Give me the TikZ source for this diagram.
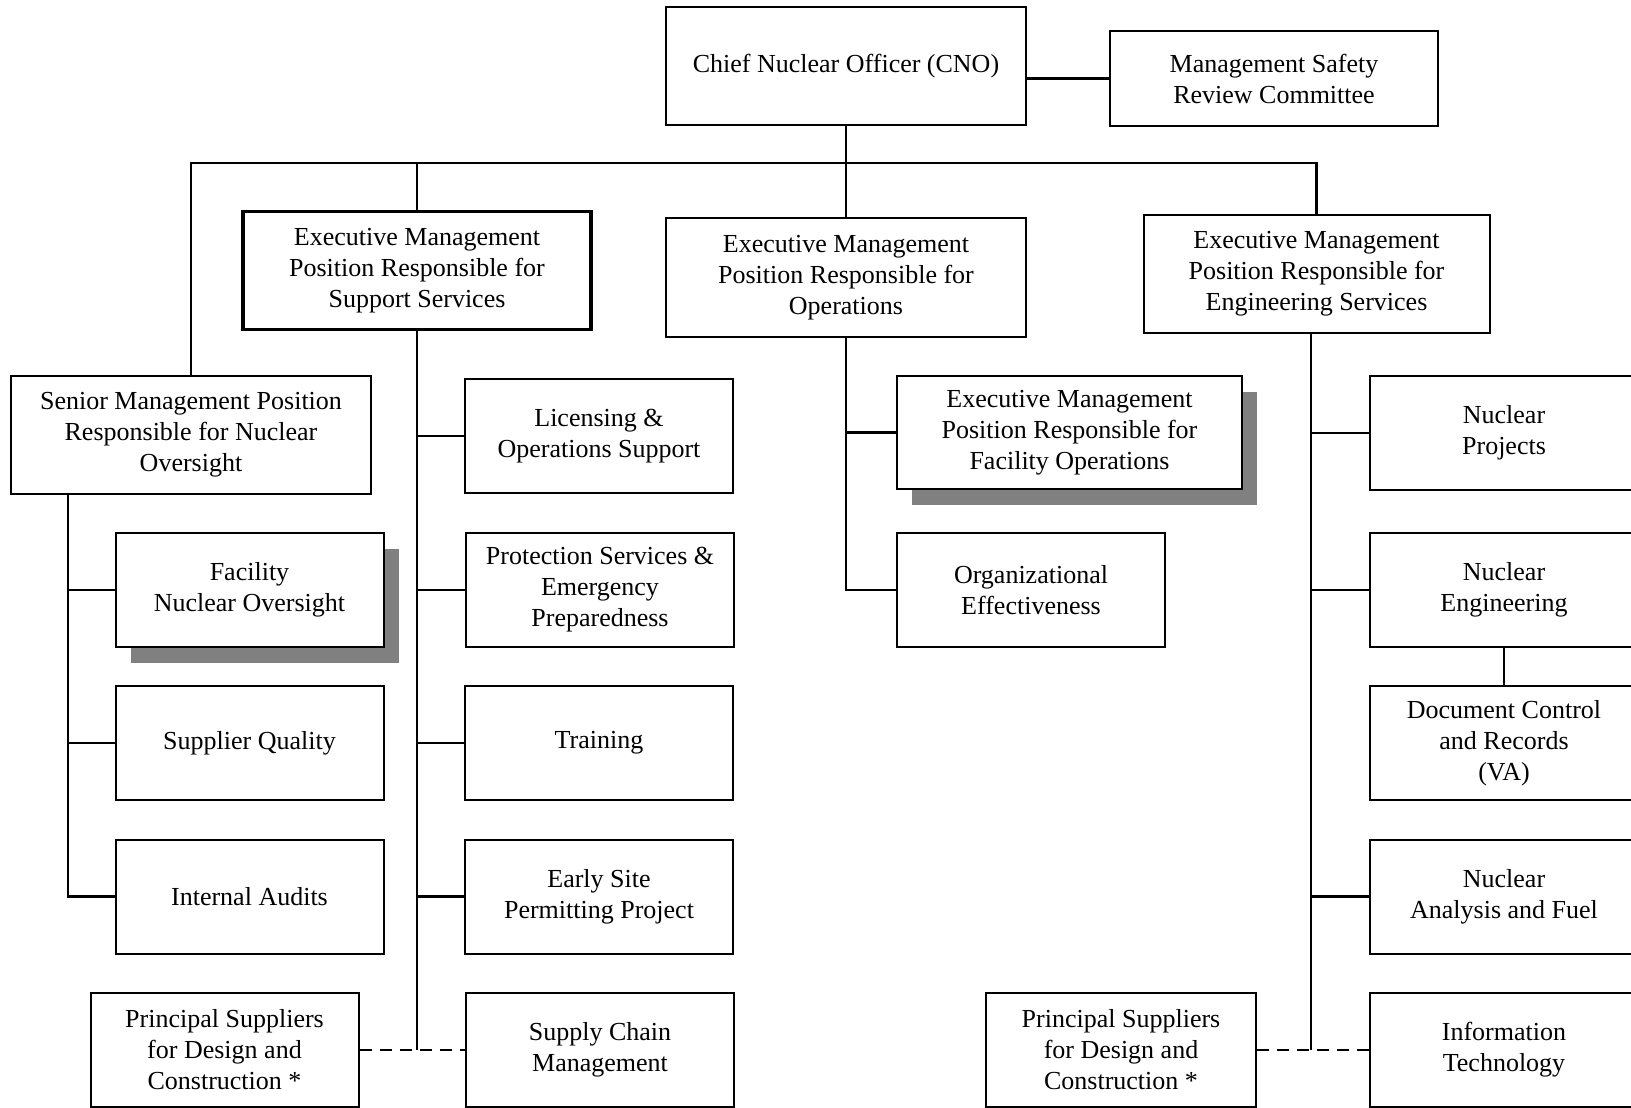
\documentclass[tikz,border=0pt]{standalone}
\usepackage{fontspec}
\setmainfont{Liberation Serif}
\usetikzlibrary{shadows}

\begin{document}
\begin{tikzpicture}[x=0.5pt, y=-0.5pt,
        box/.style={draw, line width=1pt, fill=white, align=center, inner sep=0pt,
            font=\fontsize{13}{15.5}\selectfont},
        unitbox/.style={box, minimum width=134pt, minimum height=57pt},
        headbox/.style={box, minimum width=173pt, minimum height=59pt},
        shadowed/.style={drop shadow={shadow xshift=7.5pt, shadow yshift=-8pt, fill=black!50, opacity=1}},
        link/.style={line width=1.1pt},
        buslink/.style={line width=1.4pt},
        dashlink/.style={line width=1.4pt, dash pattern=on 6pt off 4pt}]
    \useasboundingbox (0,0) rectangle (1631,1107);

    % top
    \node[headbox, minimum width=180pt] (cno) at (846, 66.5) {Chief Nuclear Officer (CNO)};
    \node[box, minimum width=164pt, minimum height=47.5pt] (msrc) at (1274, 78.5) {Management Safety\\Review Committee};
    \coordinate (bus) at (0, 163);

    % executive level
    \node[headbox, minimum width=174pt, line width=1.7pt] (sup) at (417, 270.5) {Executive Management\\Position Responsible for\\Support Services};
    \node[headbox, minimum width=180pt] (ops) at (846, 277.5) {Executive Management\\Position Responsible for\\Operations};
    \node[headbox] (eng) at (1316.5, 274) {Executive Management\\Position Responsible for\\Engineering Services};
    \node[headbox, minimum width=180pt] (snr) at (191, 435) {Senior Management Position\\Responsible for Nuclear\\Oversight};
    \coordinate (snrtrunk) at (68, 494);
    \coordinate (engtrunk) at (1311, 334);

    % oversight
    \node[unitbox, shadowed] (fno) at (249.5, 590) {Facility\\Nuclear Oversight};
    \node[unitbox] (sq) at (249.5, 743) {Supplier Quality};
    \node[unitbox] (ia) at (249.5, 896.5) {Internal Audits};
    \node[unitbox] (psl) at (224.5, 1050) {Principal Suppliers\\for Design and\\Construction *};

    % support services
    \node[unitbox] (lic) at (599, 436) {Licensing \&\\Operations Support};
    \node[unitbox] (pse) at (600, 590) {Protection Services \&\\Emergency\\Preparedness};
    \node[unitbox] (trn) at (599, 743) {Training};
    \node[unitbox] (esp) at (599, 896.5) {Early Site\\Permitting Project};
    \node[unitbox] (scm) at (600, 1050) {Supply Chain\\Management};

    % operations
    \node[box, minimum width=172.5pt, minimum height=56.5pt, shadowed] (fop) at (1069.5, 432.5) {Executive Management\\Position Responsible for\\Facility Operations};
    \node[unitbox] (org) at (1031, 590) {Organizational\\Effectiveness};

    % engineering services
    \node[unitbox] (npr) at (1504, 433) {Nuclear\\Projects};
    \node[unitbox] (neng) at (1504, 590) {Nuclear\\Engineering};
    \node[unitbox] (dcr) at (1504, 743) {Document Control\\and Records\\(VA)};
    \node[unitbox] (naf) at (1504, 896.5) {Nuclear\\Analysis and Fuel};
    \node[unitbox] (itc) at (1504, 1050) {Information\\Technology};
    \node[unitbox, minimum width=135pt] (psr) at (1121, 1050) {Principal Suppliers\\for Design and\\Construction *};

    % connectors
    \draw[link] (msrc.west -| cno.east) -- (msrc.west);
    \draw[link] (cno.south) -- (ops.north);
    \draw[buslink] (snr.north) |- (eng.north |- bus) -- (eng.north);
    \draw[buslink] (sup.north) -- (sup.north |- bus);

    \draw[link] (snrtrunk) |- (ia.west);
    \foreach \n in {fno, sq}
        \draw[link] (\n.west) -- (\n.west -| snrtrunk);

    \draw[link] (sup.south) -- (sup.south |- scm.west);
    \foreach \n in {lic, pse, trn, esp}
        \draw[link] (\n.west) -- (\n.west -| sup.south);
    \draw[dashlink] (psl.east) -- (scm.west);

    \draw[link] (ops.south) |- (org.west);
    \draw[link] (fop.west) -- (fop.west -| ops.south);

    \draw[link] (engtrunk) -- (engtrunk |- itc.west);
    \foreach \n in {npr, neng, naf}
        \draw[link] (\n.west) -- (\n.west -| engtrunk);
    \draw[link] (neng.south) -- (dcr.north);
    \draw[dashlink] (psr.east) -- (itc.west);
\end{tikzpicture}
\end{document}
